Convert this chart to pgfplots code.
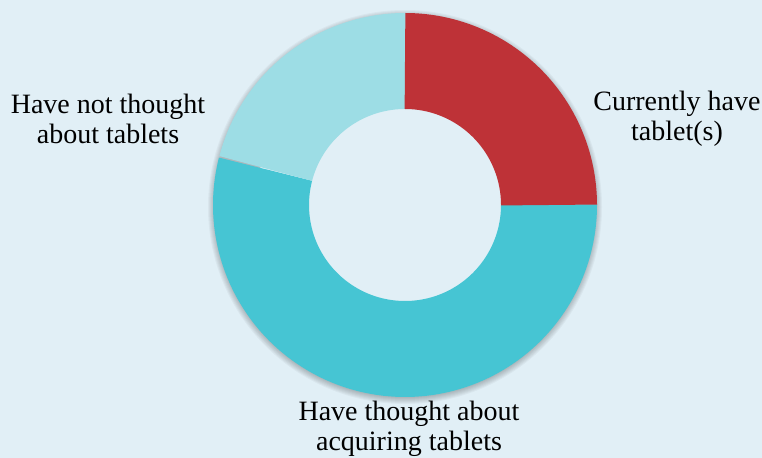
\documentclass[border=0pt]{standalone}
\usepackage{pgfplots}
\usepackage{pgfplotstable}
\pgfplotsset{compat=1.18}
\usepackage{fontspec}
\setmainfont{Liberation Serif}
\definecolor{bgc}{HTML}{E1EFF6}
\definecolor{cred}{HTML}{BE3237}
\definecolor{cteal}{HTML}{46C5D3}
\definecolor{clight}{HTML}{9DDDE5}
\pgfplotstableread{
label value
Current 25
Thought 54
NotThought 21
}\shares
\pgfplotstablegetelem{0}{value}\of\shares \pgfmathsetmacro{\va}{\pgfplotsretval}
\pgfplotstablegetelem{1}{value}\of\shares \pgfmathsetmacro{\vb}{\pgfplotsretval}
\pgfplotstablegetelem{2}{value}\of\shares \pgfmathsetmacro{\vc}{\pgfplotsretval}
\pgfmathsetmacro{\tot}{\va+\vb+\vc}
\pgfmathsetmacro{\aA}{90}
\pgfmathsetmacro{\aB}{90-360*(\va/\tot)}
\pgfmathsetmacro{\aC}{90-360*((\va+\vb)/\tot)}
\pgfmathsetmacro{\aD}{90-360}
% small overlaps (hidden under the segment drawn next) to avoid antialiasing seams
\pgfmathsetmacro{\aBo}{\aB+0.3}
\pgfmathsetmacro{\aCo}{\aC-0.3}
\pgfmathsetmacro{\aDo}{\aD-0.3}
\begin{document}
\begin{tikzpicture}
\fill[bgc] (0,0) rectangle (762bp,458bp);
% soft drop shadow
\foreach \k in {1,...,7}{
  \fill[black, opacity=0.035, even odd rule] (405bp,251bp) circle (190bp+\k bp) circle (150bp);
}
\begin{axis}[
  at={(0,0)}, anchor=south west,
  x=192bp, y=192bp,
  xmin=-2.109375, xmax=1.859375,
  ymin=-1.317708, ymax=1.067708,
  hide axis, clip=false,
]
\addplot[cteal, line width=96bp, domain=\aC:\aBo, samples=250] ({0.75*cos(x)},{0.75*sin(x)});
\addplot[clight, line width=96bp, domain=\aDo:\aCo, samples=150] ({0.75*cos(x)},{0.75*sin(x)});
\addplot[cred, line width=96bp, domain=\aB:\aA, samples=150] ({0.75*cos(x)},{0.75*sin(x)});
\end{axis}
\begin{scope}[every node/.style={align=center, font=\fontsize{28bp}{30bp}\selectfont, text=black, inner sep=0pt}]
\node at (108bp,339bp) {Have not thought\\about tablets};
\node at (677bp,339bp) {Currently have\\tablet(s)};
\node at (409bp,29.5bp) {Have thought about\\acquiring tablets};
\end{scope}
\pgfresetboundingbox
\path[use as bounding box] (0,0) rectangle (762bp,458bp);
\end{tikzpicture}
\end{document}
